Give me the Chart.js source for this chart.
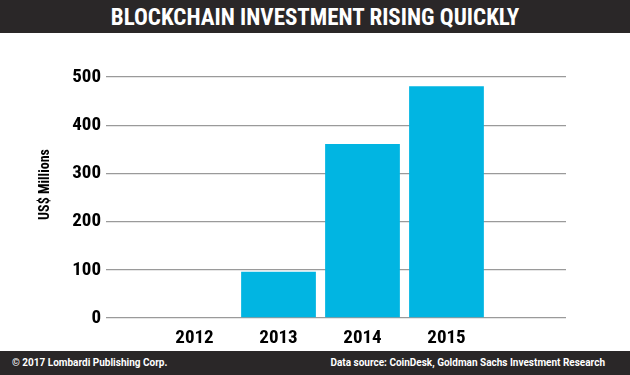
<!DOCTYPE html>
<html>
<head>
<meta charset="utf-8">
<script src="https://cdn.jsdelivr.net/npm/chart.js@4"></script>
<style>
  html, body { margin: 0; padding: 0; background: #fff; }
  #wrap { width: 630px; height: 375px; position: relative; overflow: hidden; }
  #title {
    height: 33px; background: #2a2728; color: #fff; text-align: center;
    font: bold 23px "Roboto Condensed", "Liberation Sans", sans-serif;
    line-height: 35px;
  }
  #chart_box { width: 630px; height: 318px; position: relative; }
  #footer {
    position: absolute; left: 0; top: 351px; width: 630px; height: 24px;
    background: #2a2728; color: #fff;
    font: bold 10px Roboto, "DejaVu Sans", sans-serif; line-height: 24px;
  }
  #footer .l { position: absolute; left: 12px; }
  #footer .r { position: absolute; right: 25px; }
</style>
</head>
<body>
<div id="wrap">
  <div id="title">BLOCKCHAIN INVESTMENT RISING QUICKLY</div>
  <div id="chart_box"><canvas id="invest_chart"></canvas></div>
  <div id="footer">
    <span class="l">© 2017 Lombardi Publishing Corp.</span>
    <span class="r">Data source: CoinDesk, Goldman Sachs Investment Research</span>
  </div>
</div>
<script>
const years = [2012, 2013, 2014, 2015];
const investment = [0, 96, 361, 481];
const y_ticks = [0, 100, 200, 300, 400, 500];
const y_title = "US$ Millions";

const condensed = '"Roboto Condensed", "Liberation Sans", sans-serif';

const invest_ctx = document.getElementById("invest_chart");

const invest_data = {
  datasets: [
    {
      data: years.map((y, i) => ({ x: y, y: investment[i] })),
      backgroundColor: "#01b5e2",
      borderWidth: 0,
      barPercentage: 0.89,
      categoryPercentage: 1,
    },
  ],
};

// y axis title sits a bit above the middle of the plot
const y_title_plugin = {
  id: "y_title",
  afterDraw(chart) {
    const ctx = chart.ctx;
    const area = chart.chartArea;
    ctx.save();
    ctx.translate(45, (area.top + area.bottom) / 2 - 13);
    ctx.rotate(-Math.PI / 2);
    ctx.fillStyle = "#000";
    ctx.font = "bold 14px " + condensed;
    ctx.textAlign = "center";
    ctx.textBaseline = "middle";
    ctx.fillText(y_title, 0, 0);
    ctx.restore();
  },
};

const invest_chart = new Chart(invest_ctx, {
  type: "bar",
  data: invest_data,
  plugins: [y_title_plugin],
  options: {
    responsive: true,
    maintainAspectRatio: false,
    animation: false,
    layout: {
      padding: { top: 44, right: 64, bottom: 0, left: 38 },
    },
    plugins: {
      legend: { display: false },
      tooltip: { enabled: false },
    },
    scales: {
      x: {
        type: "linear",
        offset: false,
        min: 2010.946,
        max: 2016.423,
        grid: { display: false },
        border: { display: false },
        afterBuildTicks: (scale) => {
          scale.ticks = years.map((v) => ({ value: v }));
        },
        afterFit: (scale) => {
          scale.height = 33;
        },
        ticks: {
          color: "#000",
          padding: 1,
          font: { family: condensed, size: 19, weight: "bold" },
          callback: (v) => String(v),
        },
      },
      y: {
        min: 0,
        max: 500,
        afterBuildTicks: (scale) => {
          scale.ticks = y_ticks.map((v) => ({ value: v }));
        },
        afterFit: (scale) => {
          scale.width = 68;
        },
        grid: {
          color: "#9a9a9a",
          lineWidth: 1.3,
          drawTicks: false,
        },
        border: { display: false },
        ticks: {
          color: "#000",
          padding: 5,
          font: { family: condensed, size: 19, weight: "bold" },
        },
      },
    },
  },
});
</script>
</body>
</html>
